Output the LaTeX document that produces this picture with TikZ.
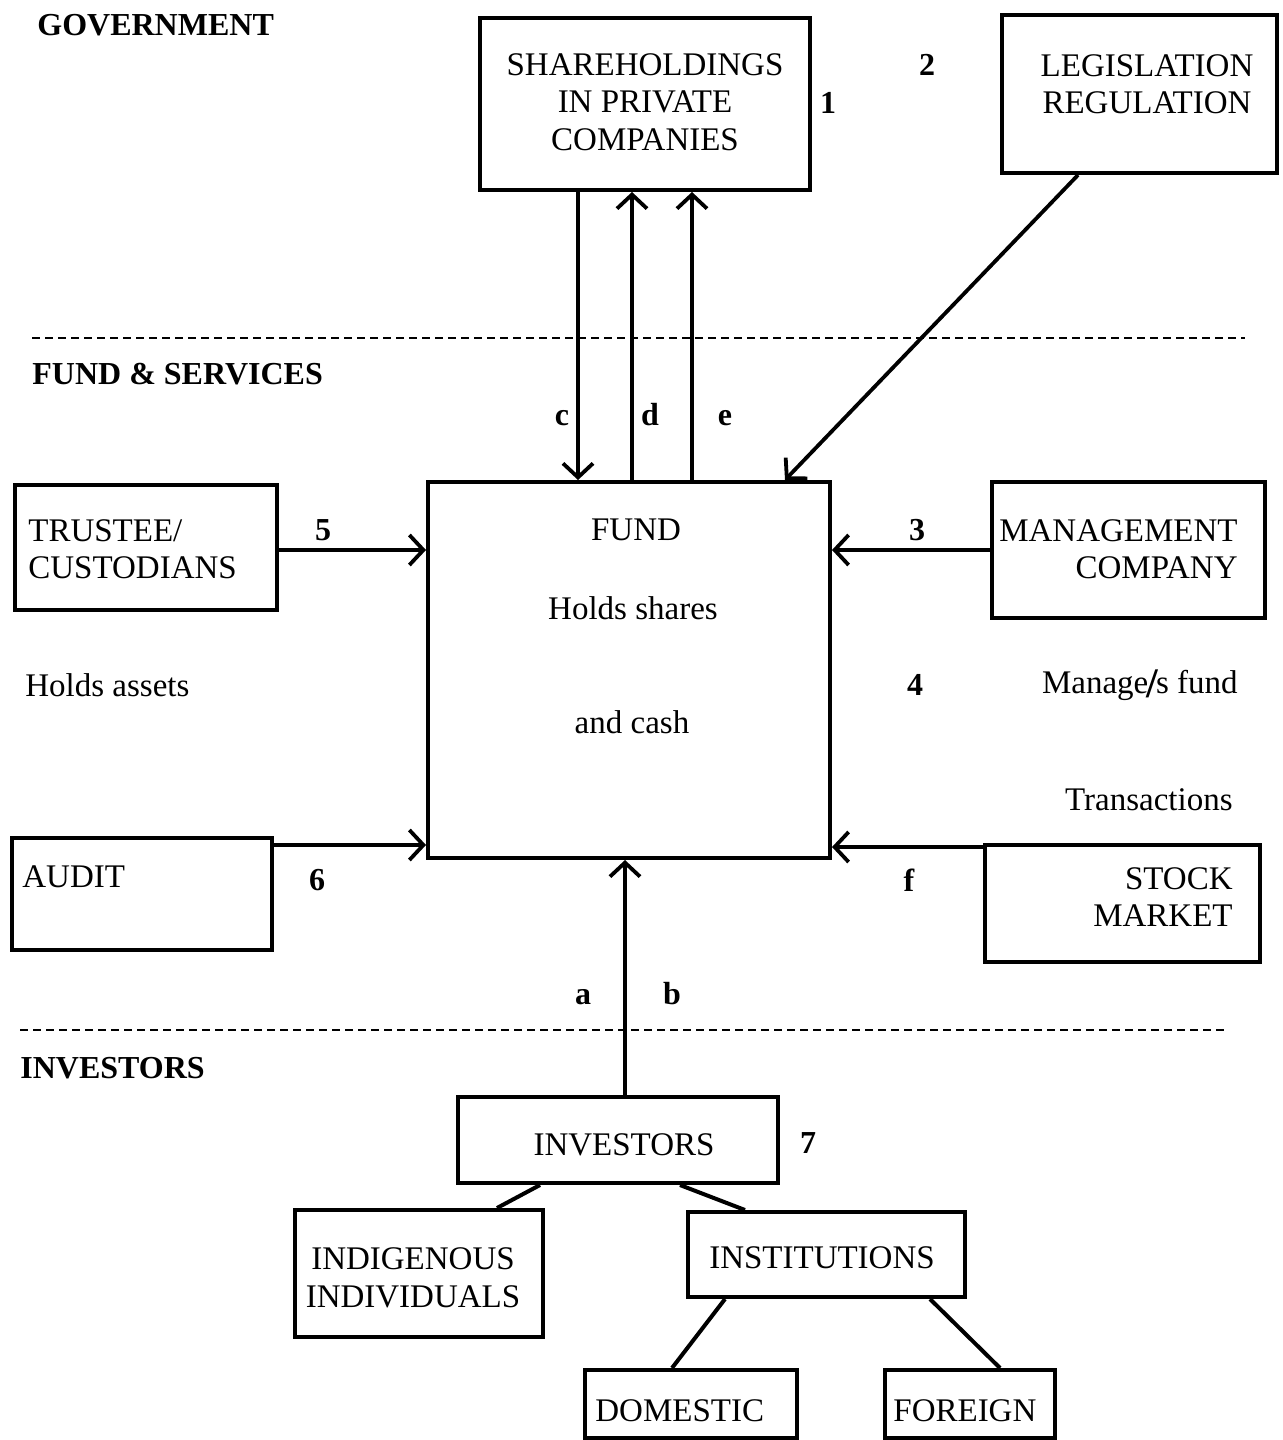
\documentclass[tikz,border=0pt]{standalone}
\usepackage{fontspec}
\setmainfont{Liberation Serif}
\usetikzlibrary{arrows.meta,fit}
\begin{document}
\begin{tikzpicture}[x=0.5pt,y=-0.5pt,
 box/.style={draw,line width=2pt,inner sep=0pt},
 txt/.style={font=\fontsize{16.5}{18.75}\selectfont,inner sep=0pt},
 lbl/.style={font=\fontsize{16}{18}\selectfont\bfseries,inner sep=0pt},
 arr/.style={line width=1.9pt,-{Straight Barb[length=7pt,width=15pt]}},
 link/.style={line width=2pt},
 sep/.style={line width=0.7pt,dash pattern=on 4pt off 2.5pt}]
\useasboundingbox (0,0) rectangle (1282,1440);

% section labels and separators
\node[lbl,anchor=west] (govl) at (37,25) {GOVERNMENT};
\draw[sep] (32,338) -- (1245,338);
\node[lbl,anchor=west] (fsl) at (32,374) {FUND \& SERVICES};
\draw[sep] (20,1030) -- (1228,1030);
\node[lbl,anchor=west] (invl) at (20,1068) {INVESTORS};

% boxes
\node[box,fit={(480,18) (810,190)}] (share) {};
\node[box,fit={(1002,15) (1277,173)}] (legis) {};
\node[box,fit={(428,482) (830,858)}] (fund) {};
\node[box,fit={(15,485) (277,610)}] (trust) {};
\node[box,fit={(992,482) (1265,618)}] (mgmt) {};
\node[box,fit={(12,838) (272,950)}] (audit) {};
\node[box,fit={(985,845) (1260,962)}] (stock) {};
\node[box,fit={(458,1097) (778,1183)}] (inv) {};
\node[box,fit={(295,1210) (543,1337)}] (indig) {};
\node[box,fit={(688,1212) (965,1297)}] (inst) {};
\node[box,fit={(585,1370) (797,1438)}] (dom) {};
\node[box,fit={(885,1370) (1055,1438)}] (for) {};

% box texts
\node[txt,align=center] (sharet) at (645,102) {SHAREHOLDINGS\\IN PRIVATE\\COMPANIES};
\node[txt,align=center] (legist) at (1147,84) {LEGISLATION\\REGULATION};
\node[txt] (fundt) at (636,530) {FUND};
\node[txt] (fundt2) at (633,608) {Holds shares};
\node[txt] (fundt3) at (632,722) {and cash};
\node[txt,align=left,anchor=west] (trustt) at (28,549) {TRUSTEE/\\CUSTODIANS};
\node[txt,align=right,anchor=east] (mgmtt) at (1238,549) {MANAGEMENT\\COMPANY};
\node[txt,anchor=west] (auditt) at (22,877) {AUDIT};
\node[txt,align=right,anchor=east] (stockt) at (1233,897) {STOCK\\MARKET};
\node[txt] (invt) at (624,1145) {INVESTORS};
\node[txt,align=center] (indigt) at (413,1278) {INDIGENOUS\\INDIVIDUALS};
\node[txt] (instt) at (822,1258) {INSTITUTIONS};
\node[txt,anchor=west] (domt) at (595,1411) {DOMESTIC};
\node[txt,anchor=west] (fort) at (893,1411) {FOREIGN};

% free texts
\node[txt,anchor=west] (hassets) at (25,685) {Holds assets};
\node[txt,anchor=east] (mfund) at (1238,685) {Manage\kern-1pt\raisebox{-2pt}{\fontsize{21}{21}\selectfont\bfseries/}\kern-1pt s fund};
\node[txt,anchor=east] (trans) at (1233,800) {Transactions};

% numbers and letters
\node[lbl] (n1) at (828,103) {1};
\node[lbl] (n2) at (927,65) {2};
\node[lbl] (n3) at (917,530) {3};
\node[lbl] (n4) at (915,685) {4};
\node[lbl] (n5) at (323,530) {5};
\node[lbl] (n6) at (317,880) {6};
\node[lbl] (n7) at (808,1143) {7};
\node[lbl,anchor=base] (la) at (583,1004) {a};
\node[lbl,anchor=base] (lb) at (672,1004) {b};
\node[lbl,anchor=base] (lc) at (562,425) {c};
\node[lbl,anchor=base] (ld) at (650,425) {d};
\node[lbl,anchor=base] (le) at (725,425) {e};
\node[lbl,anchor=base] (lf) at (909,891) {f};

% helper coordinates
\coordinate (xc) at (578,0);
\coordinate (xd) at (632,0);
\coordinate (xe) at (692,0);
\coordinate (xlg) at (1078,0);
\coordinate (xfd) at (785,0);
\coordinate (y5) at (0,550);
\coordinate (y3) at (0,550);
\coordinate (y6) at (0,845);
\coordinate (yf) at (0,847);
\coordinate (xa) at (625,0);
\coordinate (xi1) at (540,0);
\coordinate (xi2) at (497,0);
\coordinate (xi3) at (680,0);
\coordinate (xi4) at (745,0);
\coordinate (xs1) at (725,0);
\coordinate (xs2) at (672,0);
\coordinate (xs3) at (930,0);
\coordinate (xs4) at (1000,0);

% connectors
\draw[arr] (share.south -| xc) -- (fund.north -| xc);
\draw[arr] (fund.north -| xd) -- (share.south -| xd);
\draw[arr] (fund.north -| xe) -- (share.south -| xe);
\draw[arr] (legis.south -| xlg) -- (fund.north -| xfd);
\draw[arr] (trust.east |- y5) -- (fund.west |- y5);
\draw[arr] (mgmt.west |- y3) -- (fund.east |- y3);
\draw[arr] (audit.east |- y6) -- (fund.west |- y6);
\draw[arr] (stock.west |- yf) -- (fund.east |- yf);
\draw[arr] (inv.north -| xa) -- (fund.south -| xa);
\draw[link] (inv.south -| xi1) -- (indig.north -| xi2);
\draw[link] (inv.south -| xi3) -- (inst.north -| xi4);
\draw[link] (inst.south -| xs1) -- (dom.north -| xs2);
\draw[link] (inst.south -| xs3) -- (for.north -| xs4);
\end{tikzpicture}
\end{document}
